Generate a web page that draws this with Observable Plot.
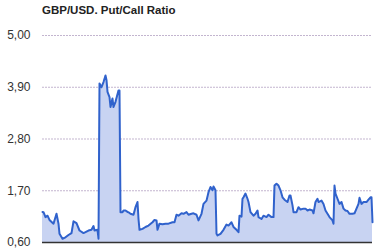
<!DOCTYPE html>
<html>
<head>
<meta charset="utf-8">
<script src="https://cdn.jsdelivr.net/npm/d3@7"></script>
<script src="https://cdn.jsdelivr.net/npm/@observablehq/plot@0.6"></script>
<style>
  html, body { margin: 0; padding: 0; background: #fff; }
  #wrap { width: 380px; height: 249px; overflow: hidden; font-family: Arial, "Liberation Sans", sans-serif; }
  #title { height: 24px; box-sizing: border-box; padding: 3px 0 0 42px; font-size: 11.5px; font-weight: bold; color: #222; line-height: 14px; white-space: nowrap; }
</style>
</head>
<body>
<div id="wrap">
  <div id="title">GBP/USD. Put/Call Ratio</div>
  <div id="chart"></div>
</div>
<script>
const days = [0, 1, 3, 5, 7, 11, 14, 16, 17, 20, 23, 26, 29, 31, 34, 37, 41, 43, 46, 49, 51, 52, 55, 56,
  57, 59, 61, 63, 64, 65, 67, 68, 70, 71, 73, 76, 77,
  78, 80, 81, 83, 85, 86, 88, 91, 93, 95, 96, 97, 100, 103, 106, 110, 112, 114, 115, 117, 120, 123, 126,
  130, 132, 134, 136, 139, 141, 144, 146, 149, 151, 154, 156, 159, 161, 164, 166, 168, 170, 171, 173,
  174, 175, 178, 181, 184, 186, 189, 191, 194, 196, 197, 199, 200, 201, 203, 205, 206, 208, 211, 213,
  215, 216, 219, 221, 224, 226, 229, 231, 232, 234, 236, 238, 240, 242, 245, 247, 248, 250, 251, 254,
  256, 258, 261, 263, 265, 267, 270, 271, 273, 275, 276, 279, 281, 283, 285, 287, 290, 291, 292, 293,
  295, 297, 299, 301, 303, 305, 307, 310, 312, 314, 316, 317, 319, 321, 324, 326, 328, 329, 330];
const ratio = [1.25, 1.245, 1.14, 1.17, 1.08, 1.00, 1.21, 1.00, 0.785, 0.68, 0.71, 0.76, 0.80, 1.05, 1.01, 0.855, 0.80, 0.82, 0.855, 0.87, 0.95, 0.855, 0.87, 0.68,
  3.98, 3.90, 4.01, 4.15, 4.05, 3.80, 3.69, 3.48, 3.66, 3.48, 3.59, 3.83, 3.83,
  1.245, 1.245, 1.28, 1.28, 1.25, 1.245, 1.21, 1.19, 1.35, 1.46, 1.10, 0.87, 0.89, 0.93, 0.96, 1.03, 1.08, 1.07, 0.87, 1.00, 0.99, 1.00, 1.00,
  1.03, 1.03, 1.19, 1.17, 1.22, 1.21, 1.245, 1.19, 1.21, 1.22, 1.19, 1.07, 1.21, 1.42, 1.49, 1.67, 1.78, 1.71, 1.79, 1.71,
  0.785, 0.75, 0.785, 0.87, 0.98, 0.96, 1.03, 0.93, 0.87, 0.82, 1.17, 1.15, 1.53, 1.56, 1.64, 1.53, 1.46, 1.245, 1.17, 1.21,
  1.28, 1.14, 1.10, 1.17, 1.14, 1.19, 1.14, 1.14, 1.81, 1.85, 1.81, 1.71, 1.56, 1.51, 1.46, 1.60, 1.60, 1.39, 1.245, 1.245,
  1.35, 1.30, 1.32, 1.32, 1.28, 1.30, 1.28, 1.22, 1.46, 1.53, 1.46, 1.49, 1.42, 1.28, 1.21, 1.14, 1.07, 1.00, 1.81, 1.64,
  1.53, 1.42, 1.46, 1.32, 1.28, 1.27, 1.21, 1.21, 1.22, 1.32, 1.42, 1.55, 1.42, 1.46, 1.46, 1.51, 1.56, 1.56, 1.03];
const yTicks = [0.6, 1.7, 2.8, 3.9, 5.0];

const data = days.map((d, i) => ({day: d, ratio: ratio[i]}));
const fmt = v => v.toFixed(2).replace(".", ",");

const chart = Plot.plot({
  width: 380,
  height: 225,
  marginLeft: 42,
  marginRight: 8,
  marginTop: 11,
  marginBottom: 7,
  x: {domain: [0, 330], axis: null},
  y: {domain: [0.6, 5.0]},
  style: {fontFamily: "Arial, 'Liberation Sans', sans-serif", fontSize: "12px", color: "#333", background: "white"},
  marks: [
    Plot.gridY(yTicks.slice(1), {stroke: "#c3b5cf", strokeOpacity: 1, strokeDasharray: "2,1"}),
    Plot.areaY(data, {x: "day", y1: 0.6, y2: "ratio", fill: "#c8d3f2", fillOpacity: 1}),
    Plot.lineY(data, {x: "day", y: "ratio", stroke: "#3062cc", strokeWidth: 2}),
    Plot.ruleY([0.6], {stroke: "#333", strokeWidth: 1.5}),
    Plot.axisY({ticks: yTicks, tickSize: 0, tickPadding: 12, tickFormat: fmt, fill: "#333", label: null})
  ]
});
document.getElementById("chart").appendChild(chart);
</script>
</body>
</html>
